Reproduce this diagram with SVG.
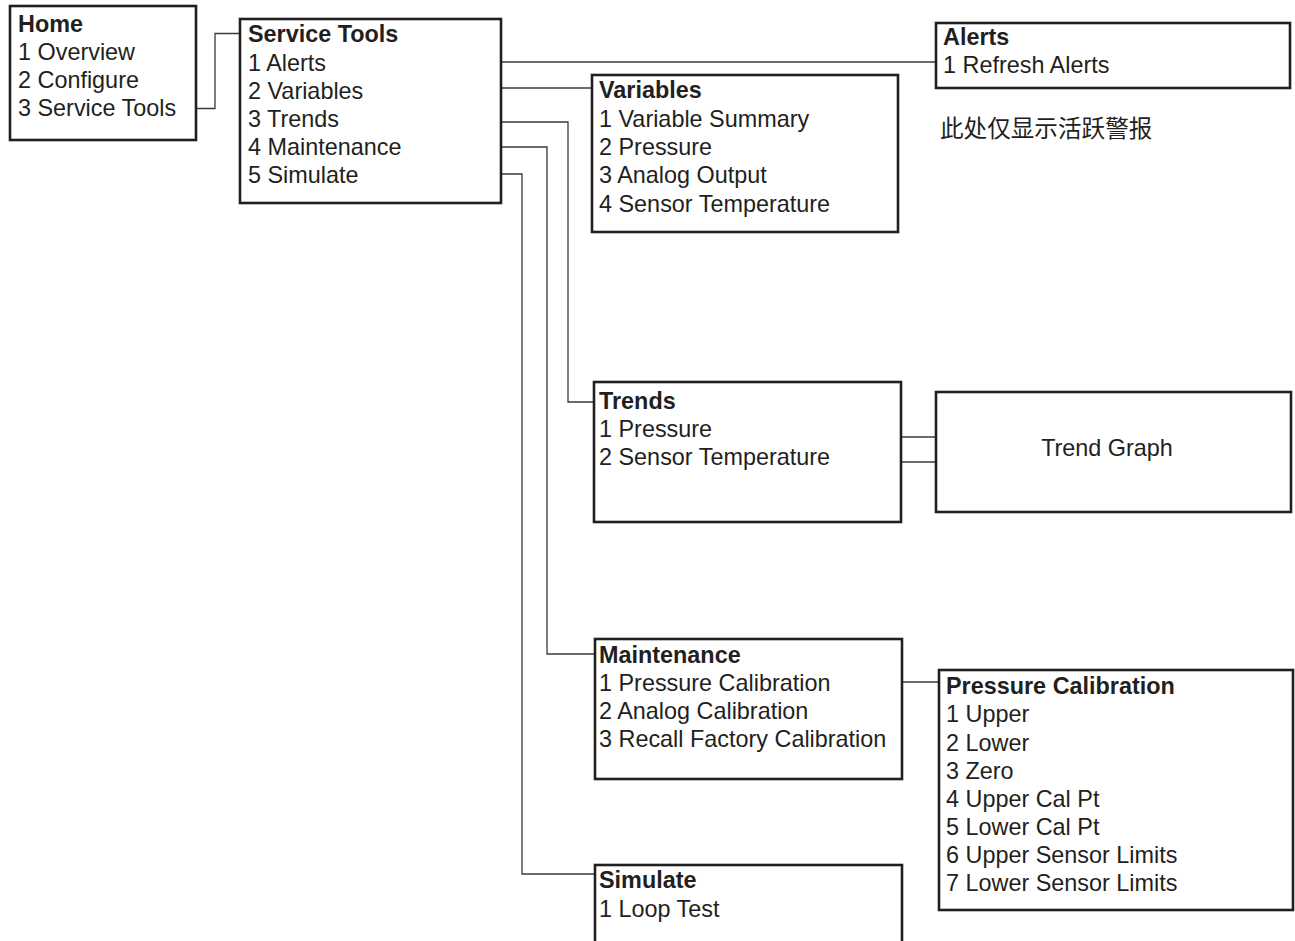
<svg xmlns="http://www.w3.org/2000/svg" width="1295" height="941" viewBox="0 0 1295 941">
  <defs>
    <style>
      .box { fill: #ffffff; stroke: #231f20; stroke-width: 2.6; }
      .link { fill: none; stroke: #3a3a3a; stroke-width: 1.3; }
      text { font-family: "Liberation Sans", Arial, sans-serif; font-size: 23.4px; fill: #231f20; }
      .title { font-weight: bold; }
      .cjk { font-family: "Noto Sans CJK SC", sans-serif; font-size: 23.6px; }
    </style>
  </defs>
  <rect width="1295" height="941" fill="#ffffff"/>

  <!-- menu connectors -->
  <g id="connectors">
    <path class="link" d="M196,108.5 H215 V33.5 H240"/>
    <path class="link" d="M501,62 H936"/>
    <path class="link" d="M501,88 H592"/>
    <path class="link" d="M501,122 H568 V402 H594"/>
    <path class="link" d="M501,147 H547 V654 H595"/>
    <path class="link" d="M501,174 H522 V874 H595"/>
    <path class="link" d="M901,437 H936"/>
    <path class="link" d="M901,462 H936"/>
    <path class="link" d="M902,682 H939"/>
  </g>

  <g id="home">
    <rect class="box" x="10" y="6" width="186" height="134"/>
    <text class="title" x="18" y="32">Home</text>
    <text x="18" y="60">1 Overview</text>
    <text x="18" y="88">2 Configure</text>
    <text x="18" y="116">3 Service Tools</text>
  </g>

  <g id="service-tools">
    <rect class="box" x="240" y="19" width="261" height="184"/>
    <text class="title" x="248" y="42">Service Tools</text>
    <text x="248" y="71">1 Alerts</text>
    <text x="248" y="99">2 Variables</text>
    <text x="248" y="127">3 Trends</text>
    <text x="248" y="155">4 Maintenance</text>
    <text x="248" y="183">5 Simulate</text>
  </g>

  <g id="alerts">
    <rect class="box" x="936" y="23" width="354" height="65"/>
    <text class="title" x="943" y="45">Alerts</text>
    <text x="943" y="73">1 Refresh Alerts</text>
  </g>

  <g id="alerts-note">
    <text class="cjk" x="940" y="137">此处仅显示活跃警报</text>
  </g>

  <g id="variables">
    <rect class="box" x="592" y="75" width="306" height="157"/>
    <text class="title" x="599" y="98">Variables</text>
    <text x="599" y="127">1 Variable Summary</text>
    <text x="599" y="155">2 Pressure</text>
    <text x="599" y="183">3 Analog Output</text>
    <text x="599" y="212">4 Sensor Temperature</text>
  </g>

  <g id="trends">
    <rect class="box" x="594" y="382" width="307" height="140"/>
    <text class="title" x="599" y="409">Trends</text>
    <text x="599" y="437">1 Pressure</text>
    <text x="599" y="465">2 Sensor Temperature</text>
  </g>

  <g id="trend-graph">
    <rect class="box" x="936" y="392" width="355" height="120"/>
    <text x="1107" y="456" text-anchor="middle">Trend Graph</text>
  </g>

  <g id="maintenance">
    <rect class="box" x="595" y="639" width="307" height="140"/>
    <text class="title" x="599" y="663">Maintenance</text>
    <text x="599" y="691">1 Pressure Calibration</text>
    <text x="599" y="719">2 Analog Calibration</text>
    <text x="599" y="747">3 Recall Factory Calibration</text>
  </g>

  <g id="pressure-calibration">
    <rect class="box" x="939" y="670" width="354" height="240"/>
    <text class="title" x="946" y="694">Pressure Calibration</text>
    <text x="946" y="722">1 Upper</text>
    <text x="946" y="751">2 Lower</text>
    <text x="946" y="779">3 Zero</text>
    <text x="946" y="807">4 Upper Cal Pt</text>
    <text x="946" y="835">5 Lower Cal Pt</text>
    <text x="946" y="863">6 Upper Sensor Limits</text>
    <text x="946" y="891">7 Lower Sensor Limits</text>
  </g>

  <g id="simulate">
    <rect class="box" x="595" y="865" width="307" height="100"/>
    <text class="title" x="599" y="888">Simulate</text>
    <text x="599" y="917">1 Loop Test</text>
  </g>
</svg>
